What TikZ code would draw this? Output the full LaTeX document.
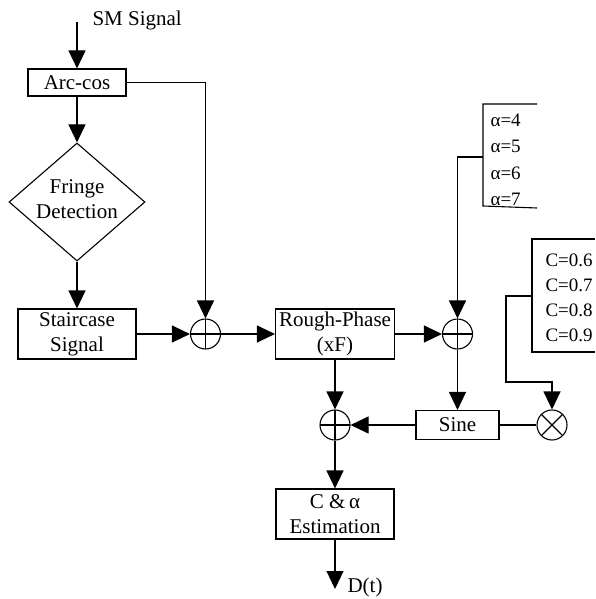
\documentclass[tikz,border=0pt]{standalone}
\usepackage{fontspec}
\setmainfont{Liberation Serif}
\usetikzlibrary{shapes.geometric,arrows.meta}
\begin{document}
\begin{tikzpicture}[x=1pt,y=-1pt, line width=1.1pt,
  font=\fontsize{21}{25}\selectfont,
  >={Triangle[length=18pt,width=17pt]},
  box/.style={draw, inner sep=0pt, align=center},
  sumnode/.style={draw, circle, minimum size=30pt, inner sep=0pt,
    path picture={\draw (path picture bounding box.north) -- (path picture bounding box.south)
      (path picture bounding box.west) -- (path picture bounding box.east);}},
  mulnode/.style={draw, circle, minimum size=30pt, inner sep=0pt,
    path picture={\draw (path picture bounding box.north west) -- (path picture bounding box.south east)
      (path picture bounding box.north east) -- (path picture bounding box.south west);}},
  lbl/.style={inner sep=0pt, anchor=base west},
  clbl/.style={lbl, font=\fontsize{19}{25}\selectfont}]
\useasboundingbox (0,0) rectangle (595,599);

% nodes
\node[lbl] (sm) at (92,26) {SM Signal};
\coordinate (smin) at (77,22);
\node[box, minimum width=98pt, minimum height=27pt] (arc) at (77,82.5) {Arc-cos};
\node[draw, diamond, minimum width=136pt, minimum height=118pt, inner sep=0pt] (fd) at (77,202) {};
\node[align=center, inner sep=0pt] (fdt) at (77,199) {Fringe\\Detection};
\node[box, minimum width=118pt, minimum height=50pt] (st) at (77,334) {Staircase\\Signal};
\node[sumnode] (s1) at (205.5,334) {};
\node[box, minimum width=119pt, minimum height=50pt] (rp) at (335,334) {Rough-Phase\\(xF)};
\node[sumnode] (s2) at (457.5,334) {};
\node[sumnode] (s3) at (335,425) {};
\node[box, minimum width=83pt, minimum height=29pt] (sine) at (457.5,425) {Sine};
\node[mulnode] (m) at (552,425) {};
\node[box, minimum width=118pt, minimum height=50pt] (est) at (335,514) {C \&\,α\\Estimation};
\coordinate (dend) at (335,589);
\node[anchor=west, inner sep=0pt] (dt) at (347,587) {D(t)};

% alpha bracket
\draw (537,104) -- (483,104) -- (483,206) -- (537,208);
\coordinate (abr) at (483,157);
\node[clbl] (a4) at (490,126) {α=4};
\node[clbl] (a5) at (490,152.5) {α=5};
\node[clbl] (a6) at (490,179) {α=6};
\node[clbl] (a7) at (490,205.5) {α=7};

% C bracket
\draw (595,239) -- (532,239) -- (532,352) -- (595,352);
\coordinate (cbr) at (532,296);
\node[clbl] (c6) at (545,266) {C=0.6};
\node[clbl] (c7) at (545,291) {C=0.7};
\node[clbl] (c8) at (545,316) {C=0.8};
\node[clbl] (c9) at (545,341) {C=0.9};
\coordinate (cbend) at (506,382);

% connectors
\draw[->] (smin) -- (arc);
\draw[->] (arc) -- (fd);
\draw[->] (fd) -- (st);
\draw[->] (st) -- (s1);
\draw[->] (arc.east) -| (s1.north);
\draw[->] (s1) -- (rp);
\draw[->] (rp) -- (s2);
\draw[->] (abr) -| (s2.north);
\draw[->] (s2) -- (sine);
\draw[->] (cbr) -| (cbend) -| (m.north);
\draw (m) -- (sine);
\draw[->] (sine) -- (s3);
\draw[->] (rp) -- (s3);
\draw[->] (s3) -- (est);
\draw[->] (est) -- (dend);
\end{tikzpicture}
\end{document}
